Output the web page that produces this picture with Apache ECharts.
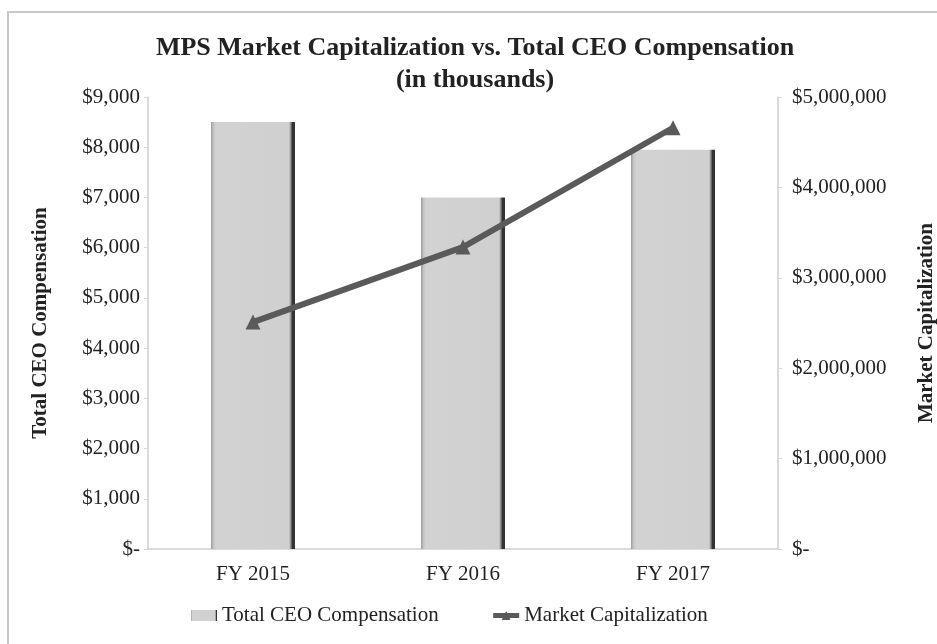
<!DOCTYPE html>
<html>
<head>
<meta charset="utf-8">
<title>MPS Market Capitalization vs. Total CEO Compensation</title>
<script src="https://cdn.jsdelivr.net/npm/echarts@6/dist/echarts.min.js"></script>
<style>
html,body{margin:0;padding:0;background:#fff;}
#main{width:937px;height:644px;}
</style>
</head>
<body>
<div id="main"></div>
<script>
// values (in thousands)
var years = ['FY 2015', 'FY 2016', 'FY 2017'];
var ceoComp = [8500, 7000, 7950];
var marketCap = [2510000, 3340000, 4660000];

var serif = '"Liberation Serif", "Times New Roman", serif';

function money(v){
	if (v === 0) return '$-';
	return '$' + v.toLocaleString('en-US');
}

var myChart = echarts.init(document.getElementById('main'));

var option = {
	backgroundColor: '#fff',
	animation: false,
	graphic: [{
		type: 'rect',
		shape: {x: 8, y: 12, width: 940, height: 640},
		style: {fill: 'none', stroke: '#c8c8c8', lineWidth: 2}
	}],
	title: {
		text: 'MPS Market Capitalization vs. Total CEO Compensation\n(in thousands)',
		left: 470,
		textAlign: 'center',
		top: 27,
		textStyle: {
			fontFamily: serif,
			fontSize: 26,
			fontWeight: 'bold',
			color: '#222',
			lineHeight: 32
		}
	},
	legend: {
		left: 186,
		top: 600,
		itemGap: 52,
		itemWidth: 26,
		itemHeight: 11,
		textStyle: {fontFamily: serif, fontSize: 21, color: '#222'},
		data: [
			{name: 'Total CEO Compensation', icon: 'rect'},
			{name: 'Market Capitalization', lineStyle: {width: 5}}
		]
	},
	grid: {left: 148, right: 159, top: 97, bottom: 95, outerBoundsMode: 'none'},
	xAxis: {
		type: 'category',
		data: years,
		axisLine: {lineStyle: {color: '#cfcfcf', width: 1.5}},
		axisTick: {show: false},
		axisLabel: {fontFamily: serif, fontSize: 21, color: '#222', margin: 15}
	},
	yAxis: [
		{
			type: 'value',
			min: 0, max: 9000, interval: 1000,
			name: 'Total CEO Compensation',
			nameLocation: 'middle',
			nameGap: 97,
			nameRotate: 90,
			nameTextStyle: {fontFamily: serif, fontSize: 21, fontWeight: 'bold', color: '#222'},
			axisLine: {show: true, lineStyle: {color: '#cfcfcf', width: 1.5}},
			axisTick: {show: true, length: 4, lineStyle: {color: '#d8d8d8'}},
			splitLine: {show: false},
			axisLabel: {fontFamily: serif, fontSize: 21, color: '#222', margin: 8, formatter: money}
		},
		{
			type: 'value',
			min: 0, max: 5000000, interval: 1000000,
			name: 'Market Capitalization',
			nameLocation: 'middle',
			nameGap: 138,
			nameRotate: 90,
			nameTextStyle: {fontFamily: serif, fontSize: 21, fontWeight: 'bold', color: '#222'},
			axisLine: {show: true, lineStyle: {color: '#cfcfcf', width: 1.5}},
			axisTick: {show: true, length: 4, lineStyle: {color: '#d8d8d8'}},
			splitLine: {show: false},
			axisLabel: {fontFamily: serif, fontSize: 21, color: '#222', margin: 14, formatter: money}
		}
	],
	series: [
		{
			name: 'Total CEO Compensation',
			type: 'bar',
			yAxisIndex: 0,
			barWidth: 84,
			data: ceoComp,
			itemStyle: {
				color: new echarts.graphic.LinearGradient(0, 0, 1, 0, [
					{offset: 0, color: '#9a9a9a'},
					{offset: 0.03, color: '#c4c4c4'},
					{offset: 0.06, color: '#d2d2d2'},
					{offset: 0.93, color: '#d0d0d0'},
					{offset: 0.95, color: '#8a8a8a'},
					{offset: 0.97, color: '#333'},
					{offset: 1, color: '#333'}
				])
			}
		},
		{
			name: 'Market Capitalization',
			type: 'line',
			yAxisIndex: 1,
			data: marketCap,
			symbol: 'triangle',
			symbolSize: 15,
			lineStyle: {color: '#5a5a5a', width: 6},
			itemStyle: {color: '#5a5a5a'}
		}
	]
};

myChart.setOption(option);
</script>
</body>
</html>
